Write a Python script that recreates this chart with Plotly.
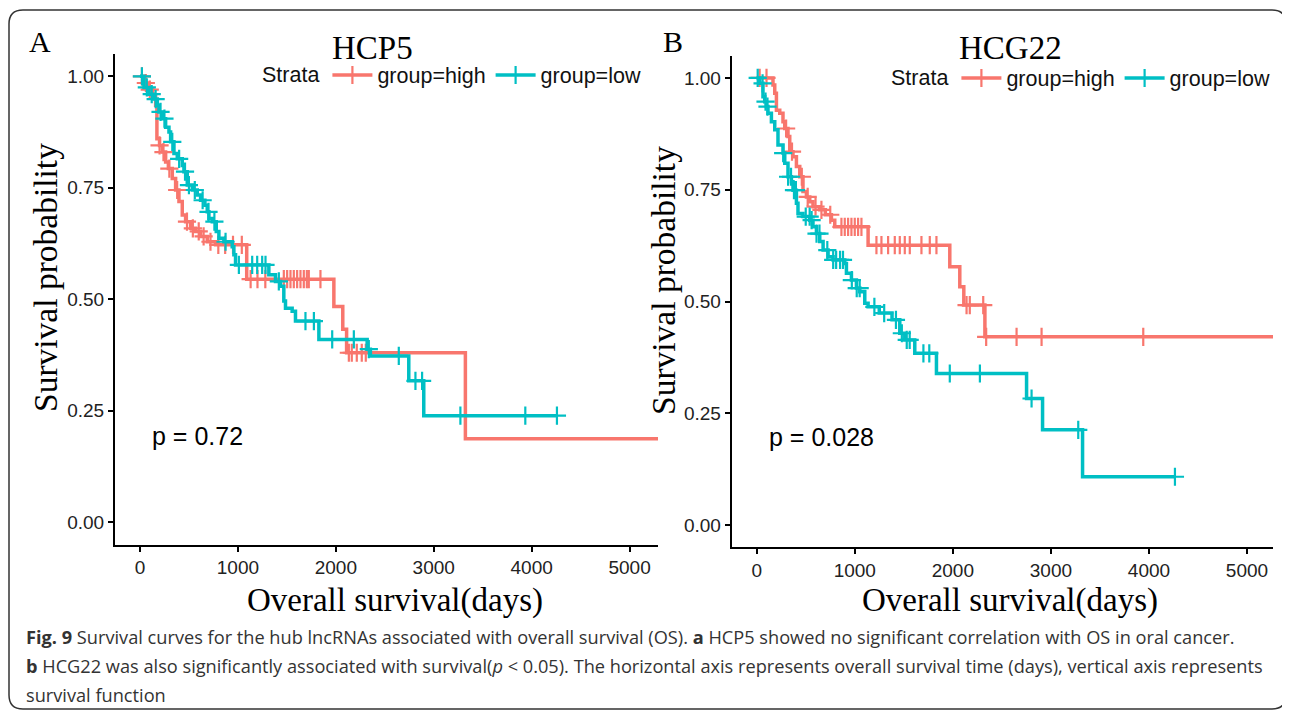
import numpy as np
import plotly.graph_objects as go

# page body has an 8px margin: the figure is drawn 8px in, so size and coordinates compensate
OFF = 8
W, H = 1290 - OFF, 713 - OFF
RED = "#F8766D"
TEAL = "#00BFC4"

# ---------------- data ----------------
# Panel A : HCP5
A_high_event_t = [40, 90, 130, 160, 173, 200, 228, 262, 290, 330, 364, 398, 432, 466, 517, 568, 619, 687, 772,
                  1090, 1980, 2071, 2110, 3323]
A_high_event_s = [0.985, 0.97, 0.955, 0.935, 0.86, 0.845, 0.83, 0.808, 0.793, 0.771, 0.745, 0.719, 0.689, 0.674,
                  0.659, 0.652, 0.641, 0.629, 0.622, 0.545, 0.484, 0.433, 0.38, 0.187]
A_high_end = 5400
A_high_censor = [20, 60, 100, 200, 240, 300, 380, 480, 540, 600, 650, 720, 800, 870, 950, 1040, 1130, 1200, 1280,
                 1469, 1503, 1537, 1571, 1605, 1639, 1673, 1704, 1724, 1843, 2133, 2163, 2214, 2265, 2306]

A_low_event_t = [41, 92, 143, 177, 194, 228, 262, 296, 313, 347, 381, 432, 449, 483, 534, 585, 619, 663, 687, 704,
                 738, 779, 806, 857, 942, 959, 976, 1316, 1384, 1435, 1469, 1486, 1554, 1588, 1827, 2320, 2353,
                 2745, 2898]
A_low_event_s = [0.975, 0.96, 0.949, 0.935, 0.92, 0.905, 0.886, 0.875, 0.853, 0.827, 0.815, 0.80, 0.786, 0.756,
                 0.745, 0.734, 0.722, 0.711, 0.696, 0.681, 0.674, 0.652, 0.637, 0.629, 0.618, 0.60, 0.577, 0.555,
                 0.540, 0.529, 0.496, 0.48, 0.473, 0.451, 0.41, 0.388, 0.373, 0.317, 0.239]
A_low_end = 4258
A_low_censor = [20, 70, 120, 160, 210, 250, 330, 400, 460, 500, 560, 640, 700, 760, 874, 1010, 1146, 1197, 1248,
                1282, 1418, 1690, 1776, 1963, 2184, 2337, 2643, 2813, 2881, 3272, 3935, 4258]

# Panel B : HCG22
B_high_event_t = [166, 184, 201, 235, 268, 286, 319, 337, 370, 405, 439, 472, 507, 541, 574, 643, 700, 762, 796,
                  1136, 1969, 2071, 2112, 2327]
B_high_event_s = [0.984, 0.966, 0.928, 0.921, 0.902, 0.887, 0.869, 0.835, 0.824, 0.802, 0.779, 0.746, 0.734,
                  0.723, 0.712, 0.705, 0.694, 0.682, 0.667, 0.626, 0.578, 0.533, 0.492, 0.421]
B_high_end = 5400
B_high_censor = [30, 100, 300, 360, 460, 520, 600, 660, 750, 864, 898, 932, 966, 1000, 1034, 1068, 1221, 1272,
                 1340, 1408, 1459, 1510, 1561, 1680, 1765, 1833, 2140, 2173, 2310, 2340, 2650, 2905, 3942]

B_low_event_t = [31, 64, 82, 99, 115, 150, 184, 217, 268, 286, 319, 354, 370, 405, 421, 472, 541, 574, 609, 643,
                 677, 728, 779, 898, 915, 966, 1017, 1051, 1102, 1136, 1250, 1380, 1459, 1510, 1612, 1833, 2752,
                 2915, 3323]
B_low_event_s = [0.988, 0.958, 0.947, 0.936, 0.921, 0.902, 0.884, 0.85, 0.832, 0.809, 0.779, 0.768, 0.749, 0.72,
                 0.697, 0.69, 0.682, 0.667, 0.652, 0.634, 0.615, 0.60, 0.593, 0.585, 0.563, 0.548, 0.530, 0.522,
                 0.496, 0.488, 0.474, 0.459, 0.429, 0.414, 0.384, 0.339, 0.283, 0.213, 0.108]
B_low_end = 4265
B_low_censor = [10, 60, 90, 110, 270, 320, 350, 380, 400, 500, 540, 560, 610, 640, 720, 780, 810, 850, 880, 970,
                1020, 1050, 1200, 1300, 1420, 1480, 1530, 1560, 1700, 1760, 1969, 2276, 2803, 3279, 4265]

x_ticks = [0, 1000, 2000, 3000, 4000, 5000]
y_ticks = [0, 0.25, 0.5, 0.75, 1.0]
y_ticklabels = ["0.00", "0.25", "0.50", "0.75", "1.00"]
titles = ["HCP5", "HCG22"]
panel_labels = ["A", "B"]
p_values = ["p = 0.72", "p = 0.028"]
groups = ["group=high", "group=low"]


# ---------------- helpers ----------------
def px(x):
    return (x - OFF) / W


def py(y):
    return 1 - (y - OFF) / H


def km_path(ev_t, ev_s, end):
    xs = [0] + list(ev_t) + [end]
    ys = [1.0] + list(ev_s) + [ev_s[-1]]
    return xs, ys


def surv_at(ev_t, ev_s, times):
    ev_t = np.asarray(ev_t)
    ev_s = np.asarray(ev_s)
    out = []
    for t in times:
        i = np.searchsorted(ev_t, t, side="right") - 1
        out.append(1.0 if i < 0 else float(ev_s[i]))
    return out


fig = go.Figure()

panels = [
    [(A_high_event_t, A_high_event_s, A_high_end, A_high_censor, RED),
     (A_low_event_t, A_low_event_s, A_low_end, A_low_censor, TEAL)],
    [(B_high_event_t, B_high_event_s, B_high_end, B_high_censor, RED),
     (B_low_event_t, B_low_event_s, B_low_end, B_low_censor, TEAL)],
]

for pi, panel in enumerate(panels):
    xa = "x" if pi == 0 else "x2"
    ya = "y" if pi == 0 else "y2"
    leg = "legend" if pi == 0 else "legend2"
    for gi, (et, es, end, cens, col) in enumerate(panel):
        xs, ys = km_path(et, es, end)
        fig.add_trace(go.Scatter(x=xs, y=ys, mode="lines", line=dict(color=col, width=3.5, shape="hv"),
                                 xaxis=xa, yaxis=ya, showlegend=False, hoverinfo="skip"))
        fig.add_trace(go.Scatter(x=cens, y=surv_at(et, es, cens), mode="markers",
                                 marker=dict(symbol="cross-thin", size=13, line=dict(color=col, width=2.2)),
                                 xaxis=xa, yaxis=ya, showlegend=False, hoverinfo="skip"))
        fig.add_trace(go.Scatter(x=[None], y=[None], mode="lines+markers", name=groups[gi],
                                 line=dict(color=col, width=3.5),
                                 marker=dict(symbol="cross-thin", size=13, line=dict(color=col, width=2.2)),
                                 xaxis=xa, yaxis=ya, legend=leg))

axis_common = dict(showline=True, linecolor="black", linewidth=2, ticks="outside", ticklen=5, tickwidth=1.5,
                   tickcolor="black", showgrid=False, zeroline=False,
                   tickfont=dict(family="Liberation Sans, Arial", size=19, color="#222"))

fig.update_layout(
    xaxis=dict(domain=[px(115), px(658)], range=[-255, 5290], tickvals=x_ticks, anchor="y", **axis_common),
    yaxis=dict(domain=[py(544.5), py(54)], range=[-0.05, 1.05], tickvals=y_ticks, ticktext=y_ticklabels,
               anchor="x", **axis_common),
    xaxis2=dict(domain=[px(731.7), px(1273)], range=[-255, 5265], tickvals=x_ticks, anchor="y2", **axis_common),
    yaxis2=dict(domain=[py(547.4), py(55.6)], range=[-0.05, 1.05], tickvals=y_ticks, ticktext=y_ticklabels,
                anchor="x2", **axis_common),
)

leg_common = dict(orientation="h", xanchor="left", yanchor="middle", bgcolor="rgba(0,0,0,0)",
                  font=dict(family="Liberation Sans, Arial", size=21.5, color="#111"),
                  title=dict(text="Strata", side="left", font=dict(family="Liberation Sans, Arial", size=21.5)),
                  itemwidth=40, tracegroupgap=0)
fig.update_layout(
    legend=dict(x=px(260), y=py(75), **leg_common),
    legend2=dict(x=px(889), y=py(78), **leg_common),
)

serif = "Liberation Serif, Times New Roman, serif"
ann = []
for lab, (x, y) in zip(panel_labels, [(40, 42), (673, 42)]):
    ann.append(dict(text=lab, x=px(x), y=py(y), xref="paper", yref="paper", showarrow=False,
                    font=dict(family=serif, size=30, color="black"), xanchor="center", yanchor="middle"))
for t, (x, y) in zip(titles, [(372, 48), (1010, 48)]):
    ann.append(dict(text=t, x=px(x), y=py(y), xref="paper", yref="paper", showarrow=False,
                    font=dict(family=serif, size=33, color="black"), xanchor="center", yanchor="middle"))
for (x, y) in [(45, 278), (663, 281)]:
    ann.append(dict(text="Survival probability", x=px(x), y=py(y), xref="paper", yref="paper", showarrow=False,
                    textangle=-90, font=dict(family=serif, size=33.5, color="black"),
                    xanchor="center", yanchor="middle"))
for (x, y) in [(395, 600), (1010, 600)]:
    ann.append(dict(text="Overall survival(days)", x=px(x), y=py(y), xref="paper", yref="paper",
                    showarrow=False, font=dict(family=serif, size=33, color="black"),
                    xanchor="center", yanchor="middle"))
for t, (x, y) in zip(p_values, [(150, 436), (767, 437)]):
    ann.append(dict(text=t, x=px(x), y=py(y), xref="paper", yref="paper", showarrow=False,
                    font=dict(family="Liberation Sans, Arial", size=25, color="black"),
                    xanchor="left", yanchor="middle"))
caption_lines = [
    "<b>Fig. 9</b> Survival curves for the hub lncRNAs associated with overall survival (OS). "
    "<b>a</b> HCP5 showed no significant correlation with OS in oral cancer.",
    "<b>b</b> HCG22 was also significantly associated with survival(<i>p</i> &lt; 0.05). "
    "The horizontal axis represents overall survival time (days), vertical axis represents",
    "survival function",
]
for line, y in zip(caption_lines, [637, 666, 695]):
    ann.append(dict(text=line, x=px(24), y=py(y), xref="paper", yref="paper", showarrow=False,
                    font=dict(family="Open Sans, Noto Sans, sans-serif", size=18.2, color="#333"),
                    xanchor="left", yanchor="middle"))


def rounded_rect(x0, y0, x1, y1, r):
    X0, X1 = px(x0), px(x1)
    Y0, Y1 = py(y0), py(y1)
    rx, ry = r / W, r / H
    return (f"M {X0 + rx},{Y0} L {X1 - rx},{Y0} Q {X1},{Y0} {X1},{Y0 - ry} "
            f"L {X1},{Y1 + ry} Q {X1},{Y1} {X1 - rx},{Y1} "
            f"L {X0 + rx},{Y1} Q {X0},{Y1} {X0},{Y1 + ry} "
            f"L {X0},{Y0 - ry} Q {X0},{Y0} {X0 + rx},{Y0} Z")


fig.update_layout(
    shapes=[dict(type="path", path=rounded_rect(9, 10, 1286, 709, 14), xref="paper", yref="paper",
                 line=dict(color="#333", width=1.5))],
    annotations=ann,
    width=W, height=H, autosize=False,
    margin=dict(l=0, r=0, t=0, b=0),
    paper_bgcolor="white", plot_bgcolor="white",
)

fig.write_html("out.html")
